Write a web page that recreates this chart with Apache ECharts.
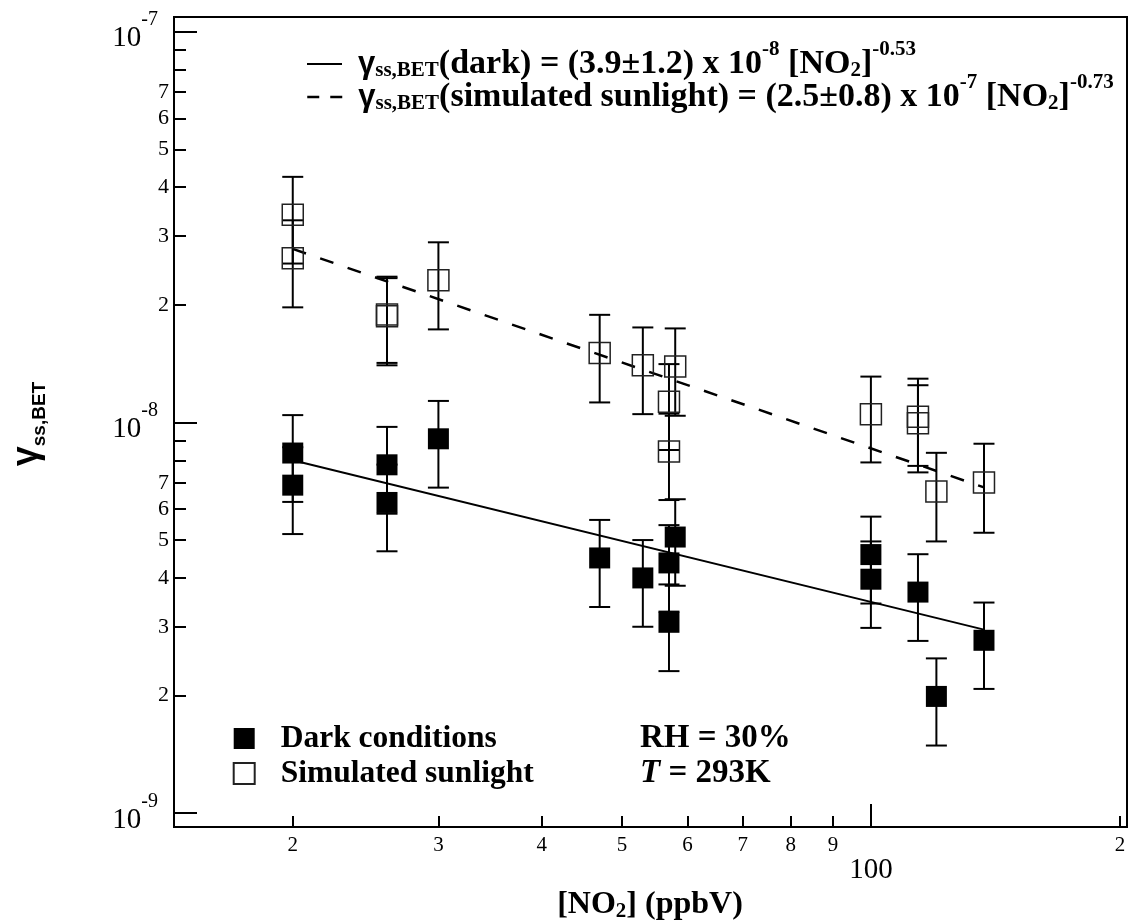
<!DOCTYPE html>
<html lang="en">
<head>
<meta charset="UTF-8">
<title>gamma ss,BET vs NO2</title>
<script src="https://cdn.jsdelivr.net/npm/echarts@6/dist/echarts.min.js"></script>
<style>
  * { margin: 0; padding: 0; }
  html, body { width: 100%; height: 100%; background: #fff; }
  #main { width: 1130px; height: 923px; }
</style>
</head>
<body>
<div id="main"></div>
<script>
// dark conditions (filled squares)
var darkNO2 = [20, 20, 26, 26, 30, 47, 53, 57, 57, 58, 100, 100, 114, 120, 137];
var darkGamma = [8.35e-9, 6.91e-9, 7.79e-9, 6.24e-9, 9.08e-9, 4.50e-9, 4.00e-9, 4.37e-9, 3.08e-9, 5.09e-9, 4.59e-9, 3.97e-9, 3.68e-9, 1.99e-9, 2.77e-9];
var darkErr = [2.09e-9, 1.73e-9, 1.95e-9, 1.56e-9, 2.27e-9, 1.13e-9, 1.00e-9, 1.09e-9, 0.77e-9, 1.27e-9, 1.15e-9, 0.99e-9, 0.92e-9, 0.50e-9, 0.69e-9];

// simulated sunlight (open squares)
var sunNO2 = [20, 20, 26, 26, 30, 47, 53, 57, 57, 58, 100, 114, 114, 120, 137];
var sunGamma = [3.40e-8, 2.63e-8, 1.89e-8, 1.87e-8, 2.31e-8, 1.505e-8, 1.40e-8, 1.13e-8, 0.843e-8, 1.39e-8, 1.05e-8, 1.034e-8, 0.995e-8, 0.666e-8, 0.702e-8];
var sunErr = [0.85e-8, 0.66e-8, 0.47e-8, 0.47e-8, 0.58e-8, 0.38e-8, 0.35e-8, 0.28e-8, 0.21e-8, 0.35e-8, 0.26e-8, 0.26e-8, 0.25e-8, 0.17e-8, 0.18e-8];

// fitted lines, end points
var fitNO2 = [20, 137];
var darkFit = [8.0e-9, 2.95e-9];
var sunFit = [2.78e-8, 6.82e-9];

// ticks
var xMinorTicks = [20, 30, 40, 50, 60, 70, 80, 90, 200];
var xMajorTicks = [100];
var yMajorTicks = [1e-9, 1e-8, 1e-7];
var yMinorTicks = [2e-9, 3e-9, 4e-9, 5e-9, 6e-9, 7e-9, 8e-9, 9e-9, 2e-8, 3e-8, 4e-8, 5e-8, 6e-8, 7e-8, 8e-8, 9e-8];
var yMinorLabels = [2e-9, 3e-9, 4e-9, 5e-9, 6e-9, 7e-9, 2e-8, 3e-8, 4e-8, 5e-8, 6e-8, 7e-8];

var serif = '"Liberation Serif", "Times New Roman", serif';
var sans = '"Liberation Sans", Arial, sans-serif';
var xMin = 14.37, xMax = 204, yMin = 9.22e-10, yMax = 1.09e-7;

function mant(v) {
    var e = Math.floor(Math.log10(v) + 1e-6);
    return Math.round(v / Math.pow(10, e));
}
function expo(v) { return Math.round(Math.log10(v)); }

function pairs(xs, ys) { return xs.map(function (x, i) { return [x, ys[i]]; }); }
function bars(xs, ys, es) { return xs.map(function (x, i) { return [x, ys[i] - es[i], ys[i] + es[i]]; }); }

var axisLine = { show: true, lineStyle: { color: '#000', width: 2 } };
var tickStyle = { color: '#000', width: 2 };

var legendRich = {
    sp: { width: 11, height: 48 },
    g: { fontFamily: sans, fontWeight: 'bold', fontSize: 31, lineHeight: 32, padding: [8, 0, 8, 0], color: '#000' },
    t: { fontFamily: serif, fontWeight: 'bold', fontSize: 34, lineHeight: 32, padding: [8, 0, 8, 0], color: '#000' },
    s: { fontFamily: serif, fontWeight: 'bold', fontSize: 21, lineHeight: 20, padding: [21, 0, 7, 0], color: '#000' },
    p: { fontFamily: serif, fontWeight: 'bold', fontSize: 21, lineHeight: 20, padding: [0, 0, 28, 0], color: '#000' }
};
var fitLabels = {
    'dark fit': '{sp|}{g|γ}{s|ss,BET}{t|(dark) = (3.9±1.2) x 10}{p|-8}{t| [NO}{s|2}{t|]}{p|-0.53}',
    'sun fit': '{sp|}{g|γ}{s|ss,BET}{t|(simulated sunlight) = (2.5±0.8) x 10}{p|-7}{t| [NO}{s|2}{t|]}{p|-0.73}'
};

function errorBars(params, api) {
    var x = api.value(0);
    var top = api.coord([x, api.value(2)]);
    var bot = api.coord([x, api.value(1)]);
    var w = 10.5;
    var st = { stroke: '#000', lineWidth: 2 };
    return {
        type: 'group',
        children: [
            { type: 'line', shape: { x1: top[0], y1: top[1], x2: bot[0], y2: bot[1] }, style: st },
            { type: 'line', shape: { x1: top[0] - w, y1: top[1], x2: top[0] + w, y2: top[1] }, style: st },
            { type: 'line', shape: { x1: bot[0] - w, y1: bot[1], x2: bot[0] + w, y2: bot[1] }, style: st }
        ]
    };
}

var chart = echarts.init(document.getElementById('main'));
chart.setOption({
    animation: false,
    backgroundColor: '#fff',
    grid: { left: 174, top: 17, right: 3, bottom: 96, show: true, borderColor: '#000', borderWidth: 2 },
    xAxis: [
        {
            type: 'log', position: 'bottom', min: xMin, max: xMax,
            axisLine: axisLine, splitLine: { show: false }, minorTick: { show: false },
            axisTick: { inside: true, length: 11, lineStyle: tickStyle, customValues: xMinorTicks },
            axisLabel: { customValues: xMinorTicks, formatter: function (v) { return String(mant(v)); },
                fontFamily: serif, fontSize: 21, color: '#000', margin: 8 }
        },
        {
            type: 'log', position: 'bottom', min: xMin, max: xMax,
            axisLine: { show: false }, splitLine: { show: false }, minorTick: { show: false },
            axisTick: { inside: true, length: 23, lineStyle: tickStyle, customValues: xMajorTicks },
            axisLabel: { customValues: xMajorTicks, formatter: function () { return '100'; },
                fontFamily: serif, fontSize: 29, color: '#000', margin: 29 }
        }
    ],
    yAxis: [
        {
            type: 'log', position: 'left', min: yMin, max: yMax,
            axisLine: axisLine, splitLine: { show: false }, minorTick: { show: false },
            axisTick: { inside: true, length: 23, lineStyle: tickStyle, customValues: yMajorTicks },
            axisLabel: {
                customValues: yMajorTicks, margin: 16,
                formatter: function (v) { return '{b|10}{s|' + expo(v) + '}'; },
                rich: {
                    b: { fontFamily: serif, fontSize: 29, lineHeight: 28, padding: [14, 0, 0, 0], color: '#000' },
                    s: { fontFamily: serif, fontSize: 20, lineHeight: 19, padding: [0, 0, 23, 0], color: '#000' }
                }
            }
        },
        {
            type: 'log', position: 'left', min: yMin, max: yMax,
            axisLine: { show: false }, splitLine: { show: false }, minorTick: { show: false },
            axisTick: { inside: true, length: 12, lineStyle: tickStyle, customValues: yMinorTicks },
            axisLabel: { customValues: yMinorLabels, formatter: function (v) { return String(mant(v)); },
                fontFamily: serif, fontSize: 22, color: '#000', margin: 5 }
        }
    ],
    legend: [
        {
            data: ['dark fit'], left: 306, top: 39, padding: 0, itemWidth: 35, itemHeight: 14, selectedMode: false,
            formatter: function (n) { return fitLabels[n]; },
            textStyle: { rich: legendRich, color: '#000' },
            itemStyle: { color: 'rgba(0,0,0,0)', borderWidth: 0 },
            lineStyle: { width: 2 }
        },
        {
            data: ['sun fit'], left: 306, top: 72, padding: 0, itemWidth: 35, itemHeight: 14, selectedMode: false,
            formatter: function (n) { return fitLabels[n]; },
            textStyle: { rich: legendRich, color: '#000' },
            itemStyle: { color: 'rgba(0,0,0,0)', borderWidth: 0 },
            lineStyle: { width: 2.5, type: [12, 11] }
        },
        {
            data: ['Dark conditions', 'Simulated sunlight'], orient: 'vertical', left: 232.7, top: 722.5, padding: 0,
            itemWidth: 21, itemHeight: 21, itemGap: 3, selectedMode: false,
            formatter: function (n) { return '{sp|}{t|' + n + '}'; },
            textStyle: {
                color: '#000',
                rich: {
                    sp: { width: 21, height: 32 },
                    t: { fontFamily: serif, fontWeight: 'bold', fontSize: 31.5, lineHeight: 32, color: '#000' }
                }
            }
        }
    ],
    graphic: [
        {
            type: 'text', x: 29, y: 424, rotation: Math.PI / 2,
            style: {
                text: '{g|γ}{s|ss,BET}', align: 'center', verticalAlign: 'middle',
                rich: {
                    g: { fontFamily: sans, fontWeight: 'bold', fontSize: 36, lineHeight: 34, padding: [4, 0, 8, 0], fill: '#000' },
                    s: { fontFamily: sans, fontWeight: 'bold', fontSize: 19, lineHeight: 19, padding: [24, 0, 3, 0], fill: '#000' }
                }
            }
        },
        {
            type: 'text', x: 650, y: 905,
            style: {
                text: '{t|[NO}{s|2}{t|] (ppbV)}', align: 'center', verticalAlign: 'middle',
                rich: {
                    t: { fontFamily: serif, fontWeight: 'bold', fontSize: 32, lineHeight: 30, padding: [6, 0, 6, 0], fill: '#000' },
                    s: { fontFamily: serif, fontWeight: 'bold', fontSize: 21, lineHeight: 20, padding: [18, 0, 4, 0], fill: '#000' }
                }
            }
        },
        {
            type: 'text', x: 640, y: 738,
            style: { text: 'RH = 30%', font: 'bold 33px ' + serif, fill: '#000', verticalAlign: 'middle' }
        },
        {
            type: 'text', x: 640, y: 773,
            style: {
                text: '{i|T}{t| = 293K}', verticalAlign: 'middle',
                rich: {
                    i: { fontFamily: serif, fontWeight: 'bold', fontStyle: 'italic', fontSize: 33, fill: '#000' },
                    t: { fontFamily: serif, fontWeight: 'bold', fontSize: 33, fill: '#000' }
                }
            }
        }
    ],
    series: [
        {
            name: 'dark fit', type: 'line', data: pairs(fitNO2, darkFit), symbol: 'none',
            lineStyle: { color: '#000', width: 2 }, itemStyle: { color: '#000' }, z: 2
        },
        {
            name: 'sun fit', type: 'line', data: pairs(fitNO2, sunFit), symbol: 'none',
            lineStyle: { color: '#000', width: 2.5, type: [14, 15] }, itemStyle: { color: '#000' }, z: 2
        },
        {
            type: 'custom', renderItem: errorBars, data: bars(darkNO2, darkGamma, darkErr),
            encode: { x: 0, y: [1, 2] }, z: 3
        },
        {
            type: 'custom', renderItem: errorBars, data: bars(sunNO2, sunGamma, sunErr),
            encode: { x: 0, y: [1, 2] }, z: 3
        },
        {
            name: 'Dark conditions', type: 'scatter', symbol: 'rect', symbolSize: 21,
            data: pairs(darkNO2, darkGamma), itemStyle: { color: '#000', opacity: 1 }, z: 4
        },
        {
            name: 'Simulated sunlight', type: 'scatter', symbol: 'rect', symbolSize: 21,
            data: pairs(sunNO2, sunGamma),
            itemStyle: { color: 'rgba(255,255,255,0)', borderColor: '#222', borderWidth: 1.5, opacity: 1 }, z: 4
        }
    ]
});
</script>
</body>
</html>
